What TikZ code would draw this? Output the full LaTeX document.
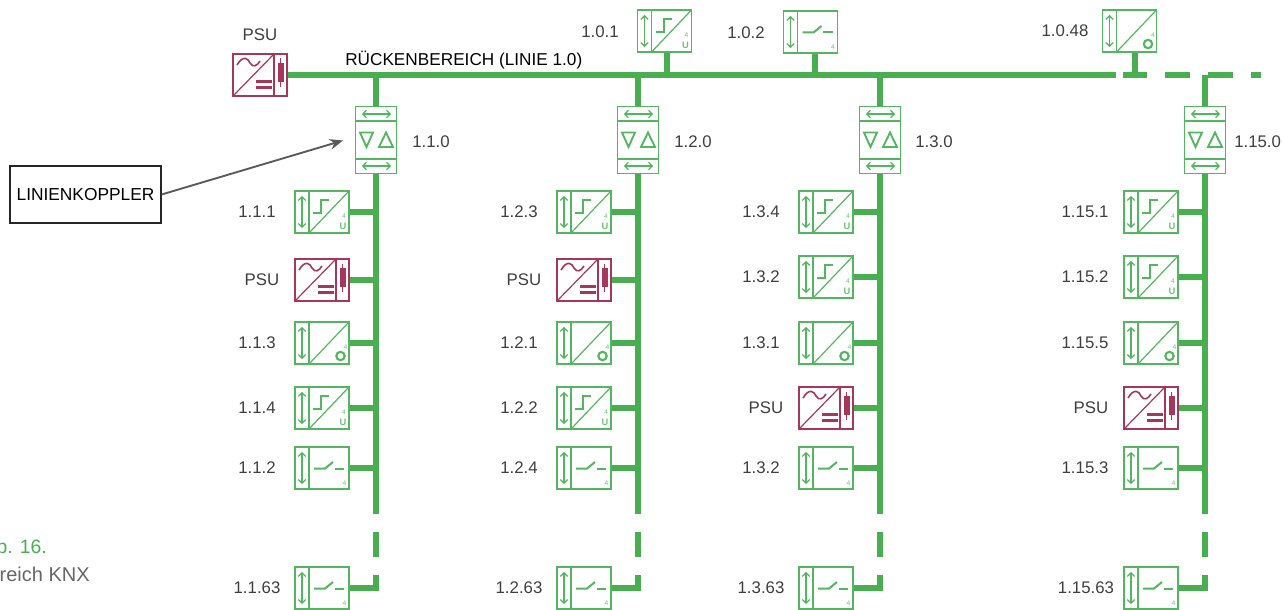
\documentclass[tikz,border=0pt]{standalone}
\usepackage{fontspec}
\setmainfont{Liberation Sans}
\usepackage{xcolor}
\usetikzlibrary{arrows.meta,positioning}
\definecolor{busgreen}{RGB}{72,174,80}
\definecolor{boxgreen}{RGB}{84,182,96}
\definecolor{psured}{RGB}{165,56,90}
\definecolor{tagtext}{RGB}{62,62,62}
\newcommand{\devframe}{%
  \node[devbox] (-box) at (0,0) {};
  \draw[devline] (-13,-21) -- (-13,21);
  \draw[devline,updown] (-20,-16) -- (-20,16);
}
\tikzset{
  x=0.75pt, y=-0.75pt,
  busline/.style={draw=busgreen, line width=4.6pt},
  devbox/.style={draw=boxgreen, line width=0.9pt, inner sep=0pt,
    minimum width=40.5pt, minimum height=31.5pt},
  psubox/.style={devbox, draw=psured},
  devline/.style={draw=boxgreen, line width=0.9pt},
  psuline/.style={draw=psured, line width=0.9pt},
  updown/.style={line width=1pt, {Straight Barb[length=2.6pt,width=5.5pt]}-{Straight Barb[length=2.6pt,width=5.5pt]}},
  devnote/.style={text=boxgreen!85, inner sep=0pt, font=\fontsize{5}{6}\selectfont},
  devunit/.style={devnote, font=\bfseries\fontsize{7}{8}\selectfont},
  devlabel/.style={text=tagtext, inner sep=0pt, font=\fontsize{12.6}{14}\selectfont},
  pics/sensor/.style={code={
    \devframe
    \draw[devline] (-13,21) -- (27,-21);
    \draw[devline,line width=1.5pt] (-9,1) -- (-1,1) -- (-1,-12) -- (7,-12);
    \node[devnote] (-four) at (22,4) {4};
    \node[devunit] (-unit) at (21,14.5) {U};
  }},
  pics/actuator/.style={code={
    \devframe
    \draw[devline] (-13,21) -- (27,-21);
    \draw[devline,line width=1.6pt] (18.5,13) circle (4.2);
    \node[devnote] (-four) at (23.5,4) {4};
  }},
  pics/switch/.style={code={
    \devframe
    \draw[devline,line width=1.5pt] (-8,0.5) -- (3,0.5) -- (11,-6);
    \draw[devline,line width=1.5pt] (12.5,0.5) -- (22,0.5);
    \node[devnote] (-four) at (22.5,15) {4};
  }},
  pics/psu/.style={code={
    \node[psubox] (-box) at (0,0) {};
    \draw[psuline] (14,-21) -- (14,21);
    \draw[psuline] (-27,21) -- (14,-21);
    \draw[psuline,line width=1.2pt] (-23,-10) .. controls (-17,-20) and (-12,-17) .. (-10,-12) .. controls (-7,-7) and (-3,-9) .. (0,-14);
    \draw[psuline,line width=1.6pt] (-4,6.5) -- (11.5,6.5) (-4,12.5) -- (11.5,12.5);
    \draw[psuline] (20.5,-16.5) -- (20.5,12);
    \fill[psured] (17.5,-12) rectangle (23.5,7);
  }},
  pics/coupler/.style={code={
    \node[devbox, minimum width=31pt, minimum height=50.5pt] (-box) at (0,0) {};
    \draw[devline] (-20.5,-19) -- (20.5,-19) (-20.5,19) -- (20.5,19);
    \draw[devline,updown] (-14,-26) -- (15,-26);
    \draw[devline,updown] (-14,26) -- (15,26);
    \draw[devline,line width=1.4pt] (-16,-7.5) -- (-3,-7.5) -- (-9.5,7) -- cycle;
    \draw[devline,line width=1.4pt] (3,7) -- (17,7) -- (10,-7.5) -- cycle;
  }},
}
% one device on a line: label offset, name, type, bus x, y, text
\newcommand{\devrow}[6][119]{%
  \pic (#2) at (#4-54,#5) {#3};
  \node[devlabel] (#2-tag) at (#4-#1,#5) {#6};
  \coordinate (#2-tap) at (#4,#5);
  \draw[busline] (#2-box.east) -- (#2-tap);
}

\begin{document}
\begin{tikzpicture}
\useasboundingbox (0,0) rectangle (1282,610);
% Backbone
\pic (psuMain) at (260,75) {psu};
\node[devlabel] (psuMain-tag) at (260,35) {PSU};
\coordinate (mainEnd) at (1116,75);
\draw[busline] (psuMain-box.east) -- (mainEnd);
\coordinate (gapA) at (1123,75); \coordinate (gapB) at (1147,75);
\coordinate (gapC) at (1165,75); \coordinate (gapD) at (1190,75);
\coordinate (gapE) at (1208,75); \coordinate (gapF) at (1233,75);
\coordinate (gapG) at (1251,75); \coordinate (gapH) at (1261,75);
\draw[busline] (gapA) -- (gapB) (gapC) -- (gapD) (gapE) -- (gapF) (gapG) -- (gapH);
\node[inner sep=0pt, anchor=west, font=\fontsize{12.9}{14}\selectfont] (mainName) at (345,60) {RÜCKENBEREICH (LINIE 1.0)};
% Devices on the backbone
\pic (d101) at (664.5,31) {sensor};
\node[devlabel] (d101-tag) at (600,32) {1.0.1};
\coordinate (d101-tap) at (667,75);
\draw[busline] (d101-box.south -| d101-tap) -- (d101-tap);
\pic (d102) at (810.5,32) {switch};
\node[devlabel] (d102-tag) at (746,33) {1.0.2};
\coordinate (d102-tap) at (815,75);
\draw[busline] (d102-box.south -| d102-tap) -- (d102-tap);
\pic (d1048) at (1129.5,31) {actuator};
\node[devlabel] (d1048-tag) at (1065,31) {1.0.48};
\coordinate (d1048-tap) at (1135,75);
\draw[busline] (d1048-box.south -| d1048-tap) -- (d1048-tap);
% Line couplers, line buses and last device of each line
\foreach \cid/\bx/\tagx in {1/376/412, 2/638/674, 3/880/915, 15/1205/1234} {
  \pic (cpl\cid) at (\bx,140) {coupler};
  \node[devlabel, anchor=west] (cpl\cid-tag) at (\tagx,142) {1.\cid.0};
  \coordinate (tee\cid) at (\bx,75);
  \draw[busline] (tee\cid) -- (cpl\cid-box.north);
  \coordinate (cut\cid) at (\bx,513.5);
  \draw[busline] (cpl\cid-box.south) -- (cut\cid);
  \coordinate (dashA\cid) at (\bx,532);
  \coordinate (dashB\cid) at (\bx,557);
  \draw[busline] (dashA\cid) -- (dashB\cid);
  \pic (end\cid) at (\bx-54,588) {switch};
  \node[devlabel] (end\cid-tag) at (\bx-119,588) {1.\cid.63};
  \coordinate (tip\cid) at (\bx,575);
  \draw[busline] (end\cid-box.east) -| (tip\cid);
}
% Line 1
\devrow{d111}{sensor}{376}{212}{1.1.1}
\devrow[114]{p11}{psu}{376}{280}{PSU}
\devrow{d113}{actuator}{376}{343}{1.1.3}
\devrow{d114}{sensor}{376}{408}{1.1.4}
\devrow{d112}{switch}{376}{468}{1.1.2}
% Line 2
\devrow{d123}{sensor}{638}{212}{1.2.3}
\devrow[114]{p12}{psu}{638}{280}{PSU}
\devrow{d121}{actuator}{638}{343}{1.2.1}
\devrow{d122}{sensor}{638}{408}{1.2.2}
\devrow{d124}{switch}{638}{468}{1.2.4}
% Line 3
\devrow{d134}{sensor}{880}{212}{1.3.4}
\devrow{d132}{sensor}{880}{277}{1.3.2}
\devrow{d131}{actuator}{880}{343}{1.3.1}
\devrow[114]{p13}{psu}{880}{408}{PSU}
\devrow{d135}{switch}{880}{468}{1.3.2}
% Line 15
\devrow[120]{d151}{sensor}{1205}{212}{1.15.1}
\devrow[120]{d152}{sensor}{1205}{277}{1.15.2}
\devrow[120]{d155}{actuator}{1205}{343}{1.15.5}
\devrow[114]{p15}{psu}{1205}{408}{PSU}
\devrow[120]{d153}{switch}{1205}{468}{1.15.3}
% Callout
\node[draw=black!85, line width=1.2pt, inner sep=0pt, minimum width=113pt, minimum height=42.5pt,
  font=\fontsize{13}{14}\selectfont] (callout) at (85.5,194.5) {LINIENKOPPLER};
\coordinate (calloutTip) at (343,140.5);
\draw[draw=black!65, line width=1.4pt, -{Stealth[length=10pt,width=8pt]}] (callout.east) -- (calloutTip);
% Caption cut by the page edge
\node[inner sep=0pt, anchor=east, text=busgreen, font=\fontsize{14.5}{16}\selectfont] (capNum) at (47,547) {b. 16.};
\node[inner sep=0pt, anchor=east, text=black!60, font=\fontsize{15}{16}\selectfont] (capText) at (90,574) {reich KNX};
\end{tikzpicture}
\end{document}
